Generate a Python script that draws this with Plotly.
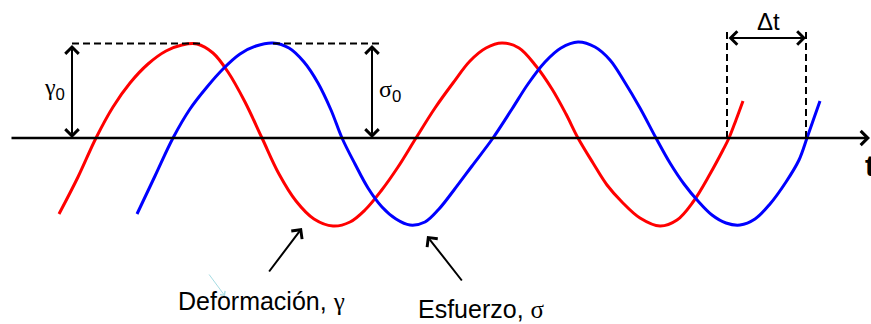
import plotly.graph_objects as go

# Strain (deformación) curve, sampled along time t; amplitude measured from the t axis
red_t = [59, 78, 96, 113, 130, 148, 166, 182, 197, 213, 228, 245, 262, 279, 296, 314,
         333, 350, 365, 381, 398, 416, 435, 453, 470, 486, 502, 519, 536, 552, 566, 578,
         593, 607, 622, 640, 660, 677, 693, 710, 723, 729, 736, 743]
red_v = [-76, -39, 0, 31, 55, 74, 87, 93, 94, 85, 66, 36, 0, -36, -63, -81,
         -88, -84, -72, -53, -29, 0, 30, 55, 77, 90, 95, 90, 72, 49, 24, 0,
         -25, -47, -64, -80, -88, -82, -64, -36, -12, 0, 18, 37]

# Stress (esfuerzo) curve, lagging the strain by Δt
blue_t = [137, 155, 173, 190, 207, 223, 240, 256, 273, 289, 304, 318, 331, 342, 355, 368,
          382, 396, 410, 425, 439, 454, 472, 493, 512, 528, 545, 561, 578, 595, 610, 624,
          640, 656, 670, 684, 698, 712, 726, 740, 755, 770, 786, 799, 807, 814, 820]
blue_v = [-76, -38, 0, 29, 51, 69, 84, 92, 95, 90, 76, 55, 28, 0, -26, -50,
          -69, -81, -87, -84, -71, -52, -28, 0, 29, 54, 76, 90, 96, 91, 78, 57,
          30, 0, -25, -46, -63, -77, -85, -87, -81, -66, -44, -22, 0, 20, 37]

# Amplitudes and phase lag markers
gamma0 = 94.5
sigma0 = 94.5
t_gamma_peak = 200
t_sigma_peak = 273
t_lag_start = 727
t_lag_end = 806

SANS = "Liberation Sans, Arial, sans-serif"
SERIF = "Liberation Serif, Times New Roman, serif"


def greek(ch):
    return f'<span style="font-family:{SERIF}">{ch}</span>'


fig = go.Figure()
fig.add_trace(go.Scatter(x=red_t, y=red_v, mode="lines",
                         line=dict(color="#ff0000", width=3, shape="spline", smoothing=1),
                         hoverinfo="skip", showlegend=False))
fig.add_trace(go.Scatter(x=blue_t, y=blue_v, mode="lines",
                         line=dict(color="#0000ff", width=3, shape="spline", smoothing=1),
                         hoverinfo="skip", showlegend=False))

dash = dict(color="black", width=2, dash="7px,4px")
shapes = [
    dict(type="line", x0=72, x1=t_gamma_peak, y0=gamma0, y1=gamma0, line=dash),
    dict(type="line", x0=t_sigma_peak, x1=380, y0=sigma0, y1=sigma0, line=dash),
    dict(type="line", x0=t_lag_start, x1=t_lag_start, y0=0, y1=108, line=dash),
    dict(type="line", x0=t_lag_end, x1=t_lag_end, y0=0, y1=108, line=dash),
]


def arrow(x, y, ax, ay, both=False, width=2, size=1.3, color="black"):
    a = dict(x=x, y=y, ax=ax, ay=ay, xref="x", yref="y", axref="x", ayref="y",
             text="", showarrow=True, arrowhead=4, arrowsize=size, arrowwidth=width,
             arrowcolor=color)
    if both:
        a.update(arrowside="end+start", startarrowhead=4, startarrowsize=size)
    return a


annotations = [
    # time axis
    arrow(870, 0, 10, 0, width=2.5, size=1.1),
    # amplitude arrows
    arrow(72, 0, 72, gamma0, both=True),
    arrow(372, 0, 372, sigma0, both=True),
    # phase lag arrow
    arrow(t_lag_end, 100, t_lag_start, 100, both=True),
    # pointers to the curves
    arrow(302, -90, 268, -135),
    arrow(427, -98, 463, -144),
    arrow(225, -158, 208, -135, width=1, size=1.2, color="#a6dce3"),
]

texts = [
    (54, 49, f"{greek('γ')}<sub>0</sub>", 24),
    (390, 47, f"{greek('σ')}<sub>0</sub>", 24),
    (768, 117, "Δt", 24),
    (261, -163, f"Deformación, {greek('γ')}", 25),
    (481, -171, f"Esfuerzo, {greek('σ')}", 25),
]
for x, y, txt, size in texts:
    annotations.append(dict(x=x, y=y, xref="x", yref="y", text=txt, showarrow=False,
                            font=dict(family=SANS, size=size, color="black"),
                            xanchor="center", yanchor="middle"))
annotations.append(dict(x=863, y=-27, xref="x", yref="y", text="<b>t</b>", showarrow=False,
                        font=dict(family=SANS, size=30, color="black"),
                        xanchor="left", yanchor="middle"))

fig.update_layout(
    width=871, height=324,
    margin=dict(l=0, r=0, t=0, b=0),
    paper_bgcolor="white", plot_bgcolor="white",
    xaxis=dict(range=[0, 871], visible=False, fixedrange=True),
    yaxis=dict(range=[-186, 138], visible=False, fixedrange=True),
    shapes=shapes, annotations=annotations,
)

fig.write_html("out.html")
